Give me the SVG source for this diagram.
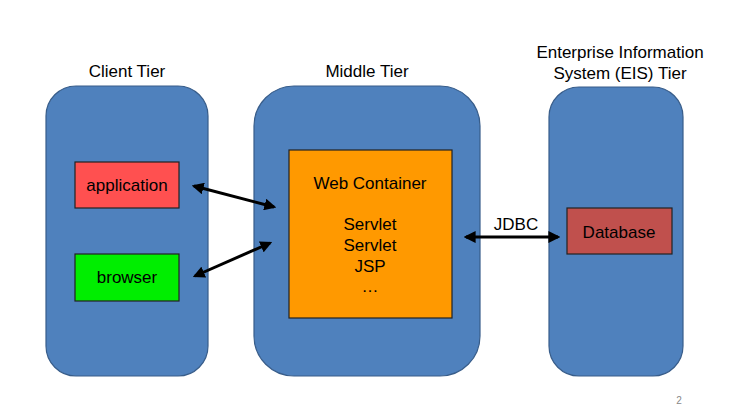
<svg xmlns="http://www.w3.org/2000/svg" width="752" height="417" viewBox="0 0 752 417">
<style>
text{font-family:"Liberation Sans",Arial,sans-serif;font-size:17px;fill:#000;text-anchor:middle}
.tier{fill:#4f81bd;stroke:#385d8a;stroke-width:1.2}
.box{stroke:#222;stroke-width:1.2}
.conn{stroke:#000;stroke-width:3;fill:none;marker-start:url(#ah);marker-end:url(#ah)}
</style>
<defs>
<marker id="ah" viewBox="0 0 10 10" refX="8" refY="5" markerWidth="4" markerHeight="4" orient="auto-start-reverse" markerUnits="strokeWidth">
<path d="M0,0 L10,5 L0,10 z" fill="#000"/>
</marker>
</defs>
<rect width="752" height="417" fill="#fff"/>
<g id="client-tier">
<text x="127" y="77">Client Tier</text>
<rect class="tier" x="46" y="86" width="162" height="290" rx="30" ry="30"/>
</g>
<g id="middle-tier">
<text x="367" y="77">Middle Tier</text>
<rect class="tier" x="254" y="86" width="226" height="290" rx="40" ry="40"/>
</g>
<g id="eis-tier">
<text x="620" y="58">Enterprise Information</text>
<text x="620" y="79">System (EIS) Tier</text>
<rect class="tier" x="549" y="87" width="134" height="289" rx="30" ry="30"/>
</g>
<g id="application">
<rect class="box" x="75" y="162" width="104" height="46" fill="#ff5050"/>
<text x="127" y="191">application</text>
</g>
<g id="browser">
<rect class="box" x="75" y="254" width="104" height="47" fill="#00ee00"/>
<text x="127" y="283">browser</text>
</g>
<g id="web-container">
<rect class="box" x="289" y="150" width="163" height="168" fill="#ff9900"/>
<text x="370" y="189">Web Container</text>
<text x="370" y="230">Servlet</text>
<text x="370" y="251">Servlet</text>
<text x="370" y="272">JSP</text>
<text x="370" y="292">…</text>
</g>
<g id="database">
<rect class="box" x="567" y="208" width="105" height="46" fill="#c0504d"/>
<text x="619" y="238">Database</text>
</g>
<g id="connectors">
<line class="conn" x1="194" y1="186" x2="274" y2="207"/>
<line class="conn" x1="195" y1="276" x2="270" y2="243"/>
<line class="conn" x1="466" y1="237" x2="558" y2="237"/>
<text x="516" y="230">JDBC</text>
</g>
<text x="679" y="404" style="font-size:10px;fill:#888">2</text>
</svg>
